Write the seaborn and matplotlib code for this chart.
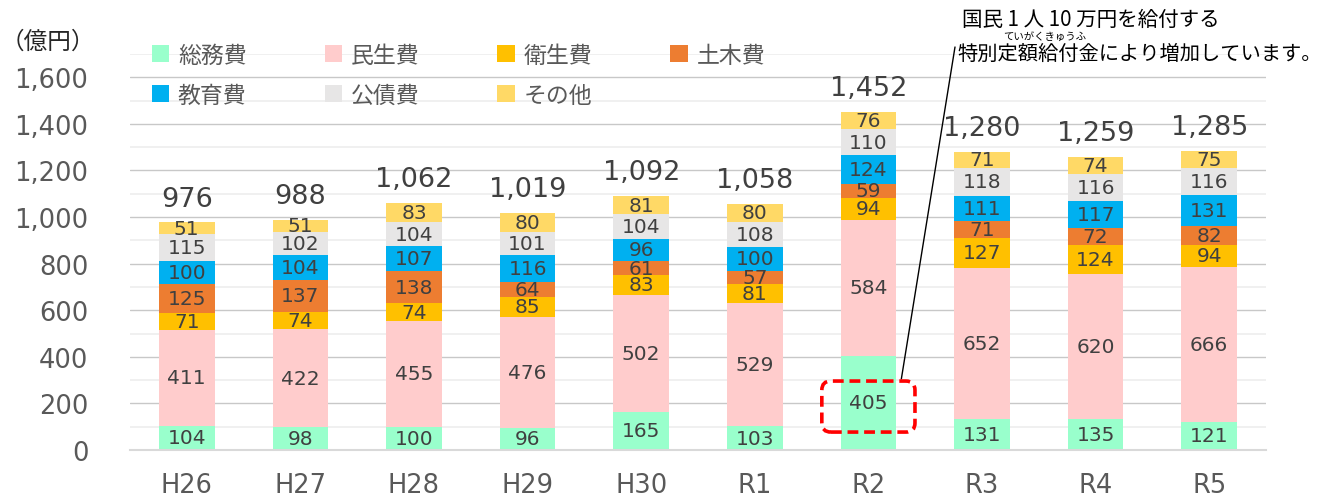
import numpy as np
import pandas as pd
import seaborn as sns
import matplotlib.pyplot as plt
from matplotlib.patches import Patch, FancyBboxPatch

# Data (億円)
years = ['H26', 'H27', 'H28', 'H29', 'H30', 'R1', 'R2', 'R3', 'R4', 'R5']
categories = ['総務費', '民生費', '衛生費', '土木費', '教育費', '公債費', 'その他']
somu = [104, 98, 100, 96, 165, 103, 405, 131, 135, 121]
minsei = [411, 422, 455, 476, 502, 529, 584, 652, 620, 666]
eisei = [71, 74, 74, 85, 83, 81, 94, 127, 124, 94]
doboku = [125, 137, 138, 64, 61, 57, 59, 71, 72, 82]
kyoiku = [100, 104, 107, 116, 96, 100, 124, 111, 117, 131]
kousai = [115, 102, 104, 101, 104, 108, 110, 118, 116, 116]
sonota = [51, 51, 83, 80, 81, 80, 76, 71, 74, 75]
totals = [976, 988, 1062, 1019, 1092, 1058, 1452, 1280, 1259, 1285]

colors = ['#99FFCC', '#FFCCCC', '#FFC000', '#ED7D31', '#00B0F0', '#E7E6E6', '#FFD966']

sns.set_style('white')
plt.rcParams['font.family'] = ['DejaVu Sans', 'Noto Sans CJK JP']

df = pd.DataFrame({'year': years, '総務費': somu, '民生費': minsei, '衛生費': eisei,
                   '土木費': doboku, '教育費': kyoiku, '公債費': kousai, 'その他': sonota})
cum = df[categories].cumsum(axis=1)
cum['year'] = years

fig = plt.figure(figsize=(13.31, 5.02), dpi=100)
ax = fig.add_axes([130 / 1331, 51 / 502, 1136 / 1331, 396 / 502])

# stacked bars: draw cumulative heights from top layer down
for cat, col in reversed(list(zip(categories, colors))):
    sns.barplot(data=cum, x='year', y=cat, color=col, width=0.49,
                linewidth=0, saturation=1, ax=ax, zorder=2)

# segment labels
for i in range(len(years)):
    base = 0
    for cat in categories:
        v = df[cat][i]
        ax.text(i, base + v / 2, str(v), ha='center', va='center',
                fontsize=14.5, color='#404040', zorder=4)
        base += v
    ax.text(i, base + 45, f'{totals[i]:,}', ha='center', va='bottom',
            fontsize=19.5, color='#404040', zorder=4)

ax.set_xlim(-0.5, 9.5)
ax.set_ylim(0, 1700)
ax.set_yticks(np.arange(0, 1601, 200))
ax.set_yticks(np.arange(100, 1701, 200), minor=True)
ax.set_yticklabels([f'{v:,}' for v in range(0, 1601, 200)])
ax.set_xticks(np.arange(-0.5, 10, 1), minor=True)
ax.grid(axis='y', which='major', color='#C8C8C8', lw=1, zorder=0)
ax.grid(axis='y', which='minor', color='#EDEDED', lw=1.2, zorder=0)
ax.set_axisbelow(True)
ax.set_xlabel('')
ax.set_ylabel('')
for s in ['top', 'right', 'left']:
    ax.spines[s].set_visible(False)
ax.spines['bottom'].set_color('#D9D9D9')
ax.spines['bottom'].set_linewidth(1.5)
ax.tick_params(axis='y', which='both', length=0, labelsize=18.5, labelcolor='#595959', pad=30)
ax.tick_params(axis='x', which='major', length=0, labelsize=18.5, labelcolor='#595959', pad=16)
ax.tick_params(axis='x', which='minor', length=8, width=1.5, color='#D9D9D9')

fig.text(48 / 1331, 1 - 42 / 502, '（億円）', fontsize=17, color='#262626',
         ha='center', va='center', family=['Noto Sans CJK JP'])

# legend, filled row by row
handles = [Patch(facecolor=c, edgecolor='none', label=l) for l, c in zip(categories, colors)]
order = [0, 4, 1, 5, 2, 6, 3]
fig.legend(handles=[handles[k] for k in order], ncol=4, loc='upper left',
           bbox_to_anchor=(131 / 1331, 1 - 24 / 502),
           frameon=False, handlelength=0.75, handleheight=0.75,
           handletextpad=0.4, columnspacing=3.4, labelspacing=0.75,
           prop={'family': 'Noto Sans CJK JP', 'size': 16.5}, labelcolor='#595959')

# callout for R2
box = FancyBboxPatch((6 - 0.41, 77), 0.82, 219, boxstyle='round,pad=0,rounding_size=0.08',
                     mutation_aspect=488, fc='none', ec='red', lw=2.6,
                     ls=(0, (3, 1.6)), zorder=5, clip_on=False)
ax.add_patch(box)
ax.annotate('', xy=(6.29, 305), xycoords='data', xytext=(955, 502 - 48),
            textcoords='figure pixels',
            arrowprops=dict(arrowstyle='-', color='black', lw=1, shrinkA=0, shrinkB=0))
fig.text(962 / 1331, 1 - 20 / 502, '国民 1 人 10 万円を給付する', fontsize=14.8,
         color='black', ha='left', va='center', family=['Noto Sans CJK JP'])
fig.text(1003 / 1331, 1 - 37 / 502, 'ていがくきゅうふ', fontsize=7.5,
         color='black', ha='left', va='center', family=['Noto Sans CJK JP'])
fig.text(957 / 1331, 1 - 54 / 502, '特別定額給付金により増加しています。', fontsize=14.6,
         color='black', ha='left', va='center', family=['Noto Sans CJK JP'])

fig.savefig('out.png', dpi=100)
